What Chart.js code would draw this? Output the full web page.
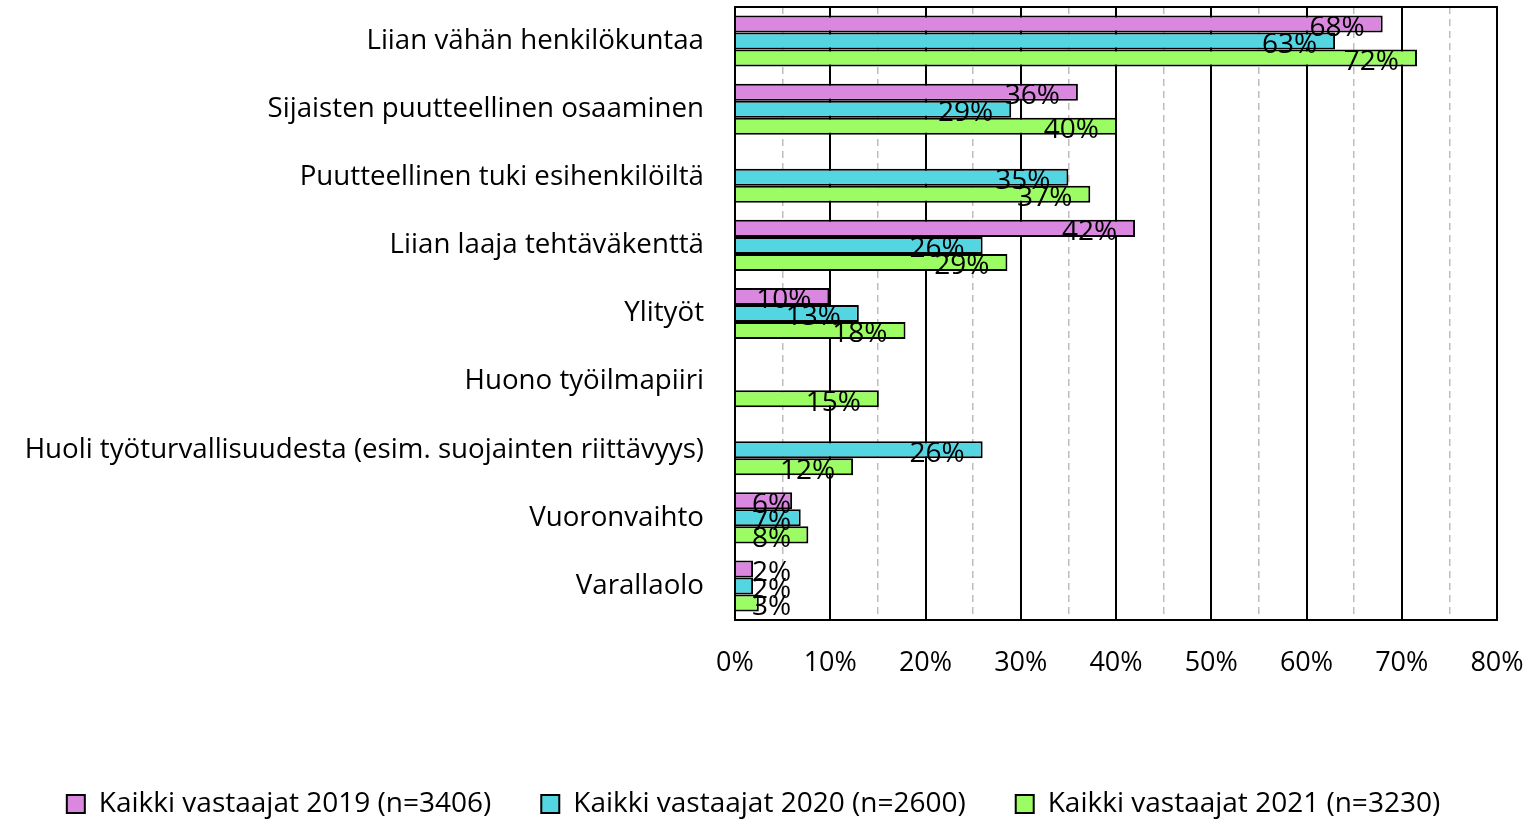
<!DOCTYPE html>
<html>
<head>
<meta charset="utf-8">
<script src="https://cdn.jsdelivr.net/npm/chart.js@4/dist/chart.umd.min.js"></script>
<style>
  html, body { margin: 0; padding: 0; background: #fff; }
  #wrap { width: 1539px; height: 823px; position: relative; }
</style>
</head>
<body>
<div id="wrap"><canvas id="c"></canvas></div>
<script>
const categories = [
  "Liian vähän henkilökuntaa",
  "Sijaisten puutteellinen osaaminen",
  "Puutteellinen tuki esihenkilöiltä",
  "Liian laaja tehtäväkenttä",
  "Ylityöt",
  "Huono työilmapiiri",
  "Huoli työturvallisuudesta (esim. suojainten riittävyys)",
  "Vuoronvaihto",
  "Varallaolo"
];
const seriesNames = [
  "Kaikki vastaajat 2019 (n=3406)",
  "Kaikki vastaajat 2020 (n=2600)",
  "Kaikki vastaajat 2021 (n=3230)"
];
const values2019 = [68, 36, null, 42, 9.9, null, null, 6, 1.9];
const values2020 = [63, 29, 35, 26, 13, null, 26, 6.9, 1.9];
const values2021 = [71.6, 40.1, 37.3, 28.6, 17.9, 15.1, 12.4, 7.7, 2.5];
const tickValues = [0, 10, 20, 30, 40, 50, 60, 70, 80];

const FONT = "'Open Sans'";

function noPad(scale) {
  scale.paddingTop = 0; scale.paddingBottom = 0;
  scale.paddingLeft = 0; scale.paddingRight = 0;
}

const frame = {
  id: 'frame',
  afterDraw(chart) {
    const a = chart.chartArea, ctx = chart.ctx;
    ctx.save();
    ctx.strokeStyle = '#000';
    ctx.lineWidth = 2;
    ctx.strokeRect(a.left, a.top, a.right - a.left, a.bottom - a.top);
    ctx.restore();
  }
};

const dataLabels = {
  id: 'dataLabels',
  afterDatasetsDraw(chart) {
    const ctx = chart.ctx;
    const xs = chart.scales.x;
    const x0 = xs.getPixelForValue(0);
    ctx.save();
    ctx.font = "28px " + FONT;
    ctx.fillStyle = '#000';
    ctx.textAlign = 'left';
    ctx.textBaseline = 'middle';
    chart.data.datasets.forEach((ds, di) => {
      const meta = chart.getDatasetMeta(di);
      meta.data.forEach((el, i) => {
        const v = ds.data[i];
        if (v === null || v === undefined) return;
        const txt = Math.round(v) + '%';
        const w = ctx.measureText(txt).width;
        let left = el.x - 18 - w;
        if (left < x0 + 17) left = x0 + 17;
        ctx.fillText(txt, left, el.y + 4);
      });
    });
    ctx.restore();
  }
};

new Chart(document.getElementById('c'), {
  type: 'bar',
  data: {
    labels: categories,
    datasets: [
      { label: seriesNames[0], data: values2019, backgroundColor: '#da87e0', borderColor: '#000', borderWidth: 2 },
      { label: seriesNames[1], data: values2020, backgroundColor: '#53d5e2', borderColor: '#000', borderWidth: 2 },
      { label: seriesNames[2], data: values2021, backgroundColor: '#9cfc63', borderColor: '#000', borderWidth: 2 }
    ]
  },
  options: {
    indexAxis: 'y',
    responsive: true,
    maintainAspectRatio: false,
    animation: false,
    datasets: { bar: { categoryPercentage: 0.75, barPercentage: 1.0 } },
    layout: { padding: { top: 7, right: 42, left: 10, bottom: -5 } },
    plugins: {
      tooltip: { enabled: false },
      legend: {
        position: 'bottom',
        labels: {
          font: { family: "Open Sans", size: 28 },
          color: '#000',
          boxWidth: 18,
          boxHeight: 18,
          padding: 50
        }
      }
    },
    scales: {
      x: {
        type: 'linear',
        min: 0, max: 80,
        afterBuildTicks(scale) { scale.ticks = tickValues.map(v => ({ value: v })); },
        afterFit(scale) {
          const lg = scale.chart.legend;
          scale.height = 208 - (lg ? lg.height : 88);
          noPad(scale);
        },
        ticks: {
          font: { family: "Open Sans", size: 27 },
          color: '#000',
          padding: 27,
          maxRotation: 0,
          callback: v => v + '%'
        },
        grid: { color: '#000', lineWidth: 2, drawTicks: false },
        border: { color: '#000', width: 2 }
      },
      x2: {
        type: 'linear',
        position: 'top',
        min: 0, max: 80,
        afterFit(scale) { scale.height = 0; noPad(scale); },
        ticks: { display: false, stepSize: 5 },
        grid: {
          drawTicks: false,
          color: c => (c.tick && c.tick.value % 10 !== 0) ? '#bdbdbd' : 'rgba(0,0,0,0)',
          lineWidth: 1.5
        },
        border: { display: false, dash: [7, 5] }
      },
      y: {
        afterFit(scale) { scale.width = 725; noPad(scale); },
        ticks: {
          font: { family: "Open Sans", size: 27.7 },
          color: '#000',
          padding: 31
        },
        grid: { display: false, drawTicks: false },
        border: { color: '#000', width: 2 }
      }
    }
  },
  plugins: [frame, dataLabels]
});
</script>
</body>
</html>
